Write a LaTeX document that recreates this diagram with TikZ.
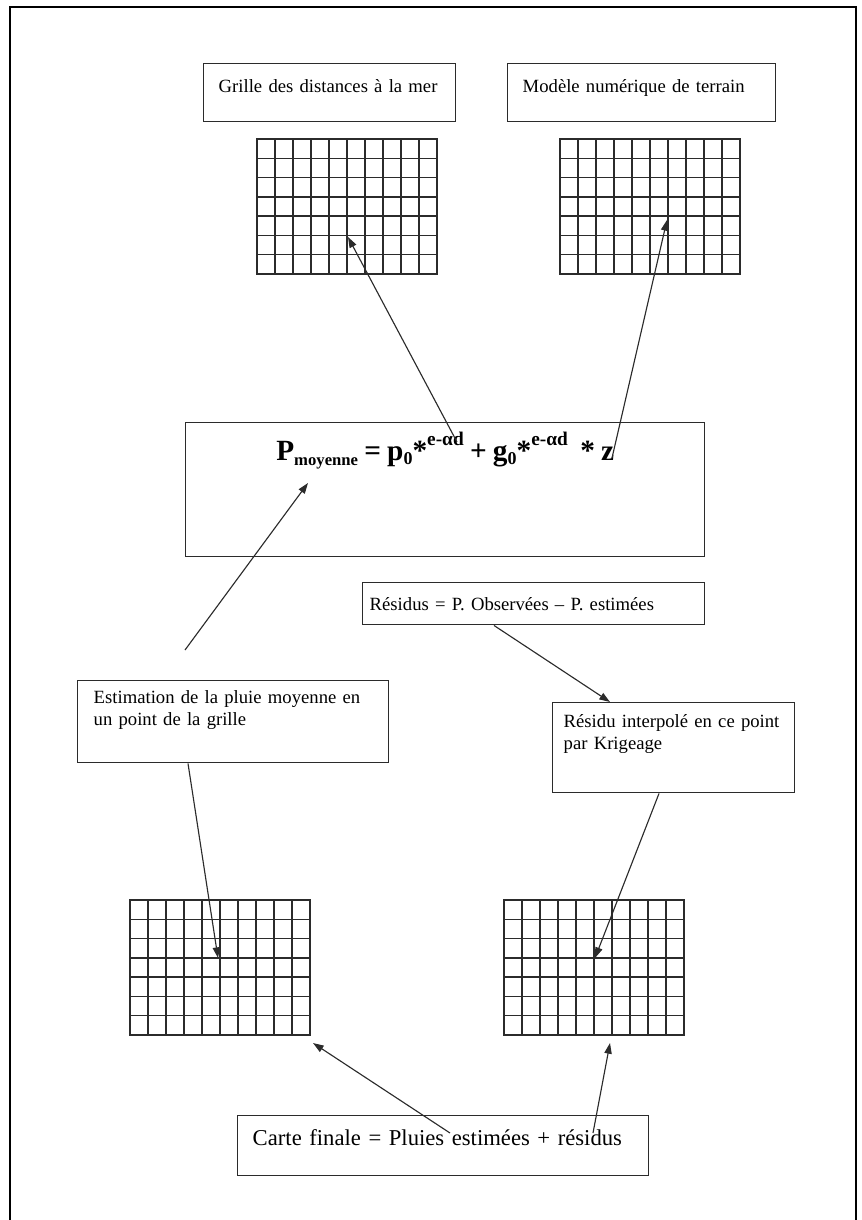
\documentclass[tikz,border=0pt]{standalone}
\usepackage{fontspec}
\setmainfont{Liberation Serif}
\usetikzlibrary{arrows.meta,positioning,calc}
\definecolor{trait}{HTML}{2B2B2B}

\tikzset{
  boite/.style={draw=trait, line width=1.1pt, anchor=north west, inner ysep=0pt, align=left, font=\fontsize{14}{16.5}\selectfont},
  grille/.style={draw=trait, line width=1.2pt, anchor=north west, inner sep=0pt, outer sep=0pt, minimum width=135pt, minimum height=101.25pt},
  fleche/.style={-{Triangle[length=8pt,width=5.5pt]}, line width=0.85pt, draw=trait},
}

% grille 10 x 7 mailles
\newcommand{\grille}[3]{%
  \node[grille] (#1) at (#2,#3) {};
  \foreach \i in {1,...,9}
    \draw[trait, line width=1.1pt] (#1.north west) ++(\i*13.5pt,0pt) -- ++(0pt,-101.25pt);
  \foreach \j in {1,...,6}
    \draw[trait, line width=1.1pt] (#1.north west) ++(0pt,-\j*14.4643pt) -- ++(135pt,0pt);
}

\newcommand{\expo}{\raisebox{11.5pt}{\fontsize{14.5}{14.5}\selectfont e-αd}}
\newcommand{\ind}[1]{\raisebox{-2.5pt}{\fontsize{13.5}{13.5}\selectfont #1}}

\begin{document}
\begin{tikzpicture}[x=0.75pt,y=-0.75pt]
  \useasboundingbox (0,0) rectangle (862,1220);
  % cadre de la page
  \draw[line width=1.8pt] (10,1230) -- (10,7) -- (856,7) -- (856,1230);

  % donnees d'entree
  \node[boite, text width=166.5pt, inner xsep=11.25pt, text height=21.75pt, text depth=21.75pt] (dist) at (203,63) {\mbox{Grille des distances à la mer}};
  \node[boite, text width=178.5pt, inner xsep=11.25pt, text height=21.75pt, text depth=21.75pt] (mnt) at (507,63) {\mbox{Modèle numérique de terrain}};
  \grille{gDist}{257}{139}
  \grille{gMnt}{560}{139}

  % regression
  \node[boite, align=center, text width=389.25pt, inner xsep=0pt, text height=28.5pt, text depth=72pt] (formule) at (185,422)
    {\fontsize{22}{24}\selectfont\bfseries P\raisebox{-3.2pt}{\fontsize{12.5}{12.5}\selectfont moyenne} = p\ind{0}*\expo{} + g\ind{0}*\expo\ \ * z};

  % residus
  \node[boite, text width=246pt, inner xsep=5.25pt, text height=21pt, text depth=10.5pt] (residus) at (362,582) {\mbox{Résidus = P. Observées – P. estimées}};
  \node[boite, text width=209.25pt, inner xsep=12pt, text height=17.25pt, text depth=44.25pt] (estim) at (77,680) {\mbox{Estimation de la pluie moyenne en}\\un point de la grille};
  \node[boite, text width=165pt, inner xsep=8.25pt, text height=18.75pt, text depth=48.75pt] (krig) at (552,702) {\mbox{Résidu interpolé en ce point}\\par Krigeage};

  % cartes
  \grille{gEst}{130}{900}
  \grille{gRes}{504}{900}
  \node[boite, font=\fontsize{17}{20}\selectfont, text width=285.75pt, inner xsep=11.25pt, text height=22.5pt, text depth=22.5pt] (carte) at (237,1115) {\mbox{Carte finale = Pluies estimées + résidus}};

  % fleches
  \coordinate (depEstim) at ($(estim.north west)+(108,-30)$);
  \draw[fleche] (depEstim) -- ($(formule.north west)+(123,61)$);
  \draw[fleche] ($(formule.north west)+(272,20)$) -- ($(gDist.north west)+(91,98)$);
  \draw[fleche] ($(formule.north west)+(427,36)$) -- ($(gMnt.north west)+(107,81)$);
  \draw[fleche] ($(residus.south west)+(132,0)$) -- ($(krig.north west)+(58,0)$);
  \draw[fleche] ($(estim.south west)+(111,0)$) -- ($(gEst.north west)+(88,58)$);
  \draw[fleche] ($(krig.south west)+(107,0)$) -- ($(gRes.north west)+(91,58)$);
  \draw[fleche] ($(carte.north west)+(213,18)$) -- ($(gEst.south east)+(3,8)$);
  \draw[fleche] ($(carte.north west)+(356,18)$) -- ($(gRes.north west)+(106,143)$);
\end{tikzpicture}
\end{document}
